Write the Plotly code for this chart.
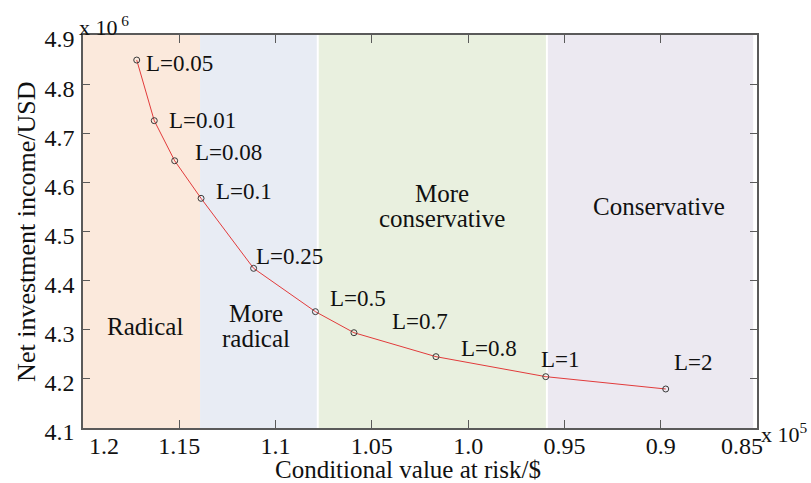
import plotly.graph_objects as go

# Efficient frontier: CVaR (x 10^5 $) vs. net investment income (x 10^6 USD)
cvar = [1.1721, 1.1630, 1.1524, 1.1387, 1.1114, 1.0793, 1.0593, 1.0167, 0.9597, 0.8974]
income = [4.849, 4.7256, 4.644, 4.5675, 4.425, 4.3368, 4.294, 4.2452, 4.2045, 4.1794]
risk_labels = ["L=0.05", "L=0.01", "L=0.08", "L=0.1", "L=0.25",
               "L=0.5", "L=0.7", "L=0.8", "L=1", "L=2"]

# Risk-attitude zones along the CVaR axis
zone_bounds = [(1.2, 1.1392), (1.1392, 1.0786), (1.0776, 0.9596), (0.9586, 0.852)]
zone_colors = ["#FBE9DC", "#E8ECF4", "#E9F0DF", "#ECE9F1"]
# zone captions, one entry per text line: (text, x, y)
zone_captions = [
    ("Radical", 1.1678, 4.3076),
    ("More", 1.1102, 4.333),
    ("radical", 1.1102, 4.282),
    ("More", 1.0137, 4.578),
    ("conservative", 1.0137, 4.527),
    ("Conservative", 0.9007, 4.5506),
]

x_ticks = [1.2, 1.15, 1.1, 1.05, 1.0, 0.95, 0.9, 0.85]
x_tick_text = ["1.2", "1.15", "1.1", "1.05", "1.0", "0.95", "0.9", "0.85"]
y_ticks = [4.1, 4.2, 4.3, 4.4, 4.5, 4.6, 4.7, 4.8, 4.9]

# pixel offsets of each L label relative to its point
label_dx = [8, 14, 19, 14, 1, 14, 37, 24, -6, 7]
label_dy = [-3, 0, 8, 7, 12, 13, 11, 8, 17, 26]

FONT = "Liberation Serif, Times New Roman, serif"
NBSP = "\u00a0"

# end labels sit inward from their ticks
tick_text = list(x_tick_text)
tick_text[0] = NBSP * 7 + tick_text[0]
tick_text[-1] = tick_text[-1] + NBSP * 5

fig = go.Figure()

fig.add_trace(go.Scatter(
    x=cvar, y=income, mode="lines+markers",
    line=dict(color="#E23B3B", width=1),
    marker=dict(symbol="circle-open", size=6, color="#3a3a3a", line=dict(width=1)),
    showlegend=False, hoverinfo="skip",
))

shapes = []
annotations = []
for (x0, x1), col in zip(zone_bounds, zone_colors):
    shapes.append(dict(type="rect", xref="x", yref="paper", x0=x0, x1=x1, y0=0, y1=1,
                       fillcolor=col, line=dict(width=0), layer="below"))

for txt, xc, yc in zone_captions:
    annotations.append(dict(x=xc, y=yc, xref="x", yref="y", text=txt, showarrow=False,
                            font=dict(family=FONT, size=25, color="#111")))

for xv, yv, txt, dx, dy in zip(cvar, income, risk_labels, label_dx, label_dy):
    annotations.append(dict(x=xv, y=yv, xref="x", yref="y", text=txt, showarrow=False,
                            xanchor="left", yanchor="middle", xshift=dx - 1, yshift=dy,
                            font=dict(family=FONT, size=23, color="#111")))

# exponent markers and axis titles
annotations += [
    dict(x=-0.009, y=1.024, xref="paper", yref="paper", text="x 10<sup> 6</sup>",
         showarrow=False, xanchor="left", yanchor="middle",
         font=dict(family=FONT, size=22, color="#111")),
    dict(x=1.003, y=-0.013, xref="paper", yref="paper", text="x 10<sup>5</sup>",
         showarrow=False, xanchor="left", yanchor="middle",
         font=dict(family=FONT, size=22, color="#111")),
    dict(x=0.482, y=-0.105, xref="paper", yref="paper", text="Conditional value at risk/$",
         showarrow=False, xanchor="center", yanchor="middle",
         font=dict(family=FONT, size=25, color="#111")),
    dict(x=-0.084, y=0.5, xref="paper", yref="paper", text="Net investment income/USD",
         showarrow=False, xanchor="center", yanchor="middle", textangle=-90,
         font=dict(family=FONT, size=26, color="#111")),
]

fig.update_layout(
    width=811, height=483,
    margin=dict(l=83, r=54, t=35, b=55),
    paper_bgcolor="white", plot_bgcolor="white",
    shapes=shapes, annotations=annotations,
    xaxis=dict(range=[1.2, 0.85], tickvals=x_ticks, ticktext=tick_text,
               showgrid=False, zeroline=False, showline=True, linecolor="#5a5a5a",
               linewidth=1.5, mirror="ticks", ticks="inside", ticklen=8,
               tickcolor="#5a5a5a", tickwidth=1.3,
               tickfont=dict(family=FONT, size=24, color="#111"),
               ticklabelstandoff=-5),
    yaxis=dict(range=[4.1, 4.9], tickvals=y_ticks,
               ticktext=[f"{v:.1f}" for v in y_ticks],
               showgrid=False, zeroline=False, showline=True, linecolor="#5a5a5a",
               linewidth=1.5, mirror="ticks", ticks="inside", ticklen=7,
               tickcolor="#5a5a5a", tickwidth=1.3,
               tickfont=dict(family=FONT, size=24, color="#111"),
               ticklabelshift=4, ticklabelstandoff=2),
)

fig.write_html("out.html")
